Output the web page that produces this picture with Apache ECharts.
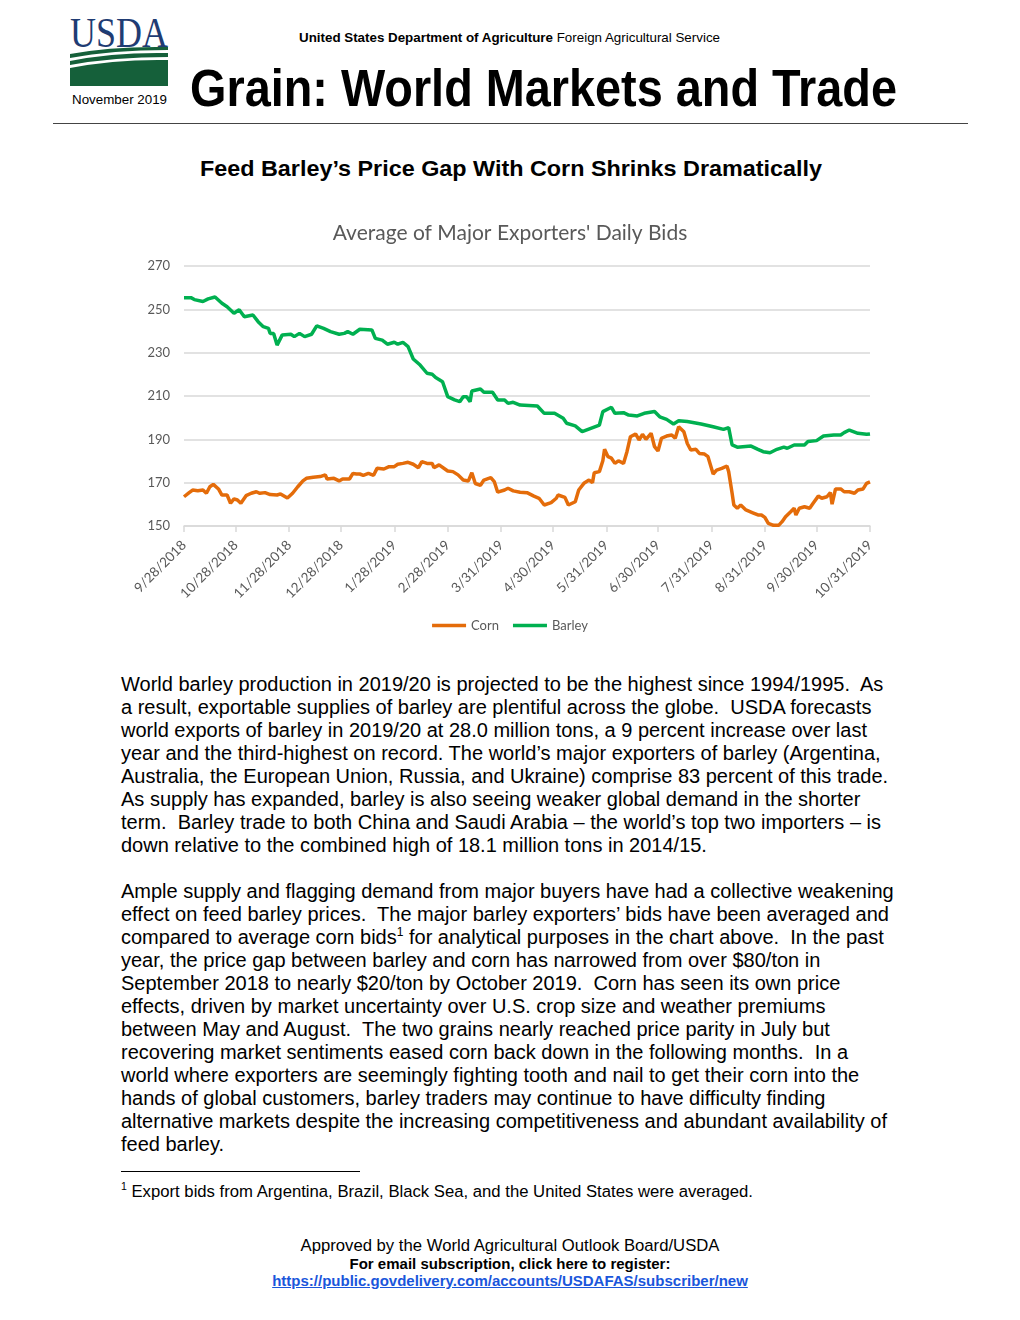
<!DOCTYPE html>
<html>
<head>
<meta charset="utf-8">
<script src="https://cdn.jsdelivr.net/npm/echarts@6/dist/echarts.min.js"></script>
<style>
  html,body{margin:0;padding:0;background:#fff;}
  body{width:1020px;height:1320px;position:relative;overflow:hidden;font-family:"Liberation Sans",Arial,sans-serif;color:#000;}
  .abs{position:absolute;white-space:pre;}
  .fit{transform-origin:0 50%;}
  .body{position:absolute;left:121px;font-size:20px;line-height:23px;white-space:pre;}
  #chart{position:absolute;left:0;top:200px;width:1020px;height:450px;}
</style>
</head>
<body>
<script>
// ---------------- DATA ----------------
const chartTitle = "Average of Major Exporters' Daily Bids";
const seriesNames = ['Corn', 'Barley'];
const xTickDates = ['2018-09-28','2018-10-28','2018-11-28','2018-12-28','2019-01-28','2019-02-28','2019-03-31',
  '2019-04-30','2019-05-31','2019-06-30','2019-07-31','2019-08-31','2019-09-30','2019-10-31'];
const xTickLabels = ['9/28/2018','10/28/2018','11/28/2018','12/28/2018','1/28/2019','2/28/2019','3/31/2019',
  '4/30/2019','5/31/2019','6/30/2019','7/31/2019','8/31/2019','9/30/2019','10/31/2019'];
const yMin = 150, yMax = 270, yStep = 20;

const cornDates = ['2018-09-28','2018-10-01','2018-10-03','2018-10-06','2018-10-09','2018-10-11','2018-10-13','2018-10-15',
  '2018-10-18','2018-10-20','2018-10-23','2018-10-25','2018-10-27','2018-10-29','2018-10-31','2018-11-03','2018-11-06',
  '2018-11-09','2018-11-11','2018-11-14','2018-11-17','2018-11-21','2018-11-23','2018-11-27','2018-11-30','2018-12-03',
  '2018-12-06','2018-12-08','2018-12-12','2018-12-16','2018-12-19','2018-12-20','2018-12-24','2018-12-27','2018-12-29',
  '2019-01-02','2019-01-04','2019-01-06','2019-01-08','2019-01-10','2019-01-13','2019-01-16','2019-01-18','2019-01-22',
  '2019-01-25','2019-01-28','2019-01-30','2019-02-02','2019-02-05','2019-02-08','2019-02-11','2019-02-13','2019-02-16',
  '2019-02-19','2019-02-20','2019-02-23','2019-02-28','2019-03-03','2019-03-06','2019-03-09','2019-03-12','2019-03-14',
  '2019-03-16','2019-03-19','2019-03-21','2019-03-25','2019-03-27','2019-03-29','2019-04-02','2019-04-04','2019-04-07',
  '2019-04-11','2019-04-15','2019-04-19','2019-04-22','2019-04-25','2019-04-29','2019-05-02','2019-05-03','2019-05-07',
  '2019-05-09','2019-05-13','2019-05-15','2019-05-18','2019-05-21','2019-05-23','2019-05-24','2019-05-27','2019-05-29',
  '2019-05-30','2019-06-01','2019-06-03','2019-06-05','2019-06-07','2019-06-10','2019-06-12','2019-06-14','2019-06-17',
  '2019-06-19','2019-06-21','2019-06-23','2019-06-26','2019-06-28','2019-06-30','2019-07-02','2019-07-05','2019-07-08',
  '2019-07-10','2019-07-12','2019-07-15','2019-07-17','2019-07-19','2019-07-22','2019-07-24','2019-07-27','2019-07-29',
  '2019-08-01','2019-08-03','2019-08-06','2019-08-09','2019-08-10','2019-08-12','2019-08-13','2019-08-15','2019-08-17',
  '2019-08-20','2019-08-24','2019-08-27','2019-08-29','2019-08-31','2019-09-02','2019-09-05','2019-09-08','2019-09-10',
  '2019-09-12','2019-09-15','2019-09-17','2019-09-18','2019-09-20','2019-09-23','2019-09-26','2019-09-28','2019-10-01',
  '2019-10-03','2019-10-06','2019-10-08','2019-10-09','2019-10-11','2019-10-14','2019-10-16','2019-10-19','2019-10-22',
  '2019-10-24','2019-10-27','2019-10-29','2019-10-31'];
const cornValues = [163.5,165.4,166.6,166.3,166.6,165.1,168.1,169.2,
  167.1,164.3,164.3,160.5,162.5,162.0,160.5,164.0,165.1,
  165.8,165.1,165.4,164.5,164.3,164.8,162.9,165.1,168.1,
  170.8,172.0,172.5,172.8,173.6,171.7,172.0,170.8,171.7,
  171.7,174.3,174.0,174.0,173.4,174.3,173.4,176.6,176.3,
  177.4,177.4,178.5,178.9,179.4,178.5,176.9,179.7,178.9,
  178.9,176.9,178.2,175.4,175.1,173.6,171.2,170.8,174.6,
  169.6,168.8,171.2,172.3,170.5,165.6,166.6,167.4,166.2,
  165.6,165.4,163.8,162.8,159.7,160.8,162.8,164.3,163.2,
  159.7,161.2,166.6,169.7,171.2,170.0,174.6,175.1,180.1,
  185.4,182.0,181.3,178.9,180.1,178.9,184.3,191.2,192.5,
  189.7,192.3,190.0,192.8,186.6,184.6,190.5,191.5,192.0,
  190.5,195.8,193.5,188.1,185.1,185.4,183.5,183.2,182.0,
  174.0,175.8,176.6,177.7,175.1,165.1,159.7,158.2,159.7,
  157.4,156.1,155.1,155.1,154.0,151.2,150.3,150.3,152.0,
  154.3,156.6,158.2,155.1,158.2,158.9,158.2,160.5,163.8,
  162.8,163.5,165.4,160.1,167.1,167.1,165.8,165.8,165.1,
  166.6,167.1,169.7,170.4];

const barleyDates = ['2018-09-28','2018-10-02','2018-10-04','2018-10-09','2018-10-12','2018-10-16','2018-10-20','2018-10-23',
  '2018-10-27','2018-10-30','2018-11-02','2018-11-07','2018-11-10','2018-11-13','2018-11-16','2018-11-17','2018-11-19',
  '2018-11-21','2018-11-24','2018-11-29','2018-12-01','2018-12-04','2018-12-07','2018-12-11','2018-12-14','2018-12-18',
  '2018-12-22','2018-12-27','2018-12-30','2019-01-01','2019-01-04','2019-01-08','2019-01-15','2019-01-17','2019-01-21',
  '2019-01-24','2019-01-28','2019-01-30','2019-02-02','2019-02-05','2019-02-08','2019-02-12','2019-02-16','2019-02-19',
  '2019-02-21','2019-02-22','2019-02-25','2019-02-28','2019-03-04','2019-03-07','2019-03-09','2019-03-11','2019-03-13',
  '2019-03-14','2019-03-19','2019-03-21','2019-03-26','2019-03-29','2019-04-02','2019-04-04','2019-04-07','2019-04-11',
  '2019-04-21','2019-04-25','2019-05-01','2019-05-06','2019-05-08','2019-05-13','2019-05-17','2019-05-22','2019-05-27',
  '2019-05-29','2019-06-03','2019-06-05','2019-06-10','2019-06-13','2019-06-18','2019-06-22','2019-06-28','2019-07-01',
  '2019-07-05','2019-07-09','2019-07-12','2019-07-17','2019-07-25','2019-08-01','2019-08-07','2019-08-10','2019-08-12',
  '2019-08-15','2019-08-23','2019-08-27','2019-08-30','2019-09-03','2019-09-07','2019-09-11','2019-09-13','2019-09-17',
  '2019-09-23','2019-09-25','2019-09-30','2019-10-04','2019-10-10','2019-10-14','2019-10-16','2019-10-19','2019-10-24',
  '2019-10-29','2019-10-30','2019-10-31'];
const barleyValues = [255.4,255.4,254.5,253.6,254.8,255.7,252.8,251.2,
  248.2,249.8,246.6,247.4,244.3,242.0,241.2,238.9,238.9,
  233.5,238.2,238.5,237.4,238.9,237.4,238.5,242.4,241.2,
  239.7,238.5,238.9,239.7,238.5,240.8,240.5,236.6,235.8,
  233.9,234.8,233.9,234.8,232.8,227.1,224.3,220.5,220.0,
  218.5,218.9,216.6,209.7,208.2,207.4,209.7,209.7,207.4,
  212.3,213.2,211.7,211.7,208.2,208.2,206.6,207.1,205.8,
  205.4,202.0,202.0,199.7,197.4,196.2,193.6,195.1,196.6,
  202.8,204.8,202.0,202.3,201.2,200.8,202.0,202.8,200.4,
  199.2,197.1,198.6,198.2,197.1,195.8,194.6,195.4,187.4,
  186.4,186.9,185.4,184.3,183.8,185.4,186.4,185.9,187.4,
  187.4,189.0,189.4,191.5,192.0,192.0,193.1,194.3,192.8,
  192.3,191.5,192.5];

const cornColor = '#E46C0A';
const barleyColor = '#00B050';

// ---------------- HELPERS ----------------
function dayNum(iso){ const p = iso.split('-').map(Number); return Date.UTC(p[0], p[1]-1, p[2]) / 86400000; }
const day0 = dayNum(xTickDates[0]);
const toX = iso => dayNum(iso) - day0;
const tickX = xTickDates.map(toX);
const pairs = (ds, vs) => ds.map((d, i) => [toX(d), vs[i]]);
</script>

<!-- Header -->
<svg class="abs" style="left:66px;top:14px;" width="108" height="76" viewBox="66 14 108 76">
  <text x="70" y="47" font-family="Liberation Serif, Times New Roman, serif" font-size="43" fill="#1F3C73" textLength="98" lengthAdjust="spacingAndGlyphs">USDA</text>
  <path d="M70,54 Q112,46 168,47 L168,50 Q112,50 70,58 Z" fill="#15603A"/>
  <path d="M70,61 Q114,52 168,53 L168,57 Q114,57 70,65 Z" fill="#15603A"/>
  <path d="M70,68 Q116,59 168,60 L168,86 L70,86 Z" fill="#15603A"/>
</svg>
<div class="abs fit" data-w="95" style="left:72px;top:92px;font-size:13px;line-height:16px;">November 2019</div>
<div class="abs fit" data-w="421" style="left:299px;top:30px;font-size:13px;line-height:16px;"><b>United States Department of Agriculture</b> Foreign Agricultural Service</div>
<div class="abs fit" data-w="707" style="left:190px;top:63px;font-size:51px;line-height:52px;font-weight:bold;">Grain: World Markets and Trade</div>
<div class="abs" style="left:53px;top:123px;width:915px;height:0;border-top:1.5px solid #444;"></div>

<div class="abs fit" data-w="622" style="left:200px;top:156px;font-size:22px;line-height:26px;font-weight:bold;">Feed Barley’s Price Gap With Corn Shrinks Dramatically</div>

<div id="chart"></div>

<div class="body" style="top:673px;"><div>World barley production in 2019/20 is projected to be the highest since 1994/1995.  As</div><div>a result, exportable supplies of barley are plentiful across the globe.  USDA forecasts</div><div>world exports of barley in 2019/20 at 28.0 million tons, a 9 percent increase over last</div><div>year and the third-highest on record. The world’s major exporters of barley (Argentina,</div><div>Australia, the European Union, Russia, and Ukraine) comprise 83 percent of this trade.</div><div>As supply has expanded, barley is also seeing weaker global demand in the shorter</div><div>term.  Barley trade to both China and Saudi Arabia – the world’s top two importers – is</div><div>down relative to the combined high of 18.1 million tons in 2014/15.</div></div>

<div class="body" style="top:880px;"><div>Ample supply and flagging demand from major buyers have had a collective weakening</div><div>effect on feed barley prices.  The major barley exporters’ bids have been averaged and</div><div>compared to average corn bids<sup style="font-size:12px;line-height:0;">1</sup> for analytical purposes in the chart above.  In the past</div><div>year, the price gap between barley and corn has narrowed from over $80/ton in</div><div>September 2018 to nearly $20/ton by October 2019.  Corn has seen its own price</div><div>effects, driven by market uncertainty over U.S. crop size and weather premiums</div><div>between May and August.  The two grains nearly reached price parity in July but</div><div>recovering market sentiments eased corn back down in the following months.  In a</div><div>world where exporters are seemingly fighting tooth and nail to get their corn into the</div><div>hands of global customers, barley traders may continue to have difficulty finding</div><div>alternative markets despite the increasing competitiveness and abundant availability of</div><div>feed barley.</div></div>

<div class="abs" style="left:121px;top:1171px;width:239px;height:0;border-top:1px solid #000;"></div>
<div class="abs" style="left:121px;top:1182px;font-size:16.7px;line-height:19px;"><sup style="font-size:10.5px;line-height:0;">1</sup> Export bids from Argentina, Brazil, Black Sea, and the United States were averaged.</div>

<div class="abs" style="left:0;width:1020px;text-align:center;top:1236px;font-size:16.7px;line-height:20px;">Approved by the World Agricultural Outlook Board/USDA</div>
<div class="abs" style="left:0;width:1020px;text-align:center;top:1255px;font-size:15px;line-height:18px;font-weight:bold;">For email subscription, click here to register:</div>
<div class="abs" style="left:0;width:1020px;text-align:center;top:1272px;font-size:15px;line-height:18px;font-weight:bold;color:#1A56DB;text-decoration:underline;">https://public.govdelivery.com/accounts/USDAFAS/subscriber/new</div>

<script>
// fit condensed header texts to their widths
document.querySelectorAll('.fit').forEach(el => {
  const target = +el.dataset.w;
  const w = el.getBoundingClientRect().width;
  if (w > 0) el.style.transform = 'scaleX(' + (target / w) + ')';
});

const chartFont = 'Lato, "Open Sans", sans-serif';
const chart = echarts.init(document.getElementById('chart'), null, {renderer: 'canvas'});
chart.setOption({
  animation: false,
  title: {
    text: chartTitle, left: 'center', top: 18,
    textStyle: {fontFamily: chartFont, fontSize: 21, fontWeight: 'normal', color: '#595959'}
  },
  legend: {
    data: seriesNames, bottom: 13, left: 'center',
    icon: 'rect', itemWidth: 34, itemHeight: 3.5, itemGap: 14,
    textStyle: {fontFamily: chartFont, fontSize: 13, color: '#595959'}
  },
  grid: {left: 184, right: 150, top: 66, bottom: 124, containLabel: false},
  xAxis: {
    type: 'value', min: tickX[0], max: tickX[tickX.length - 1],
    axisLine: {show: true, lineStyle: {color: '#D9D9D9', width: 1.5}},
    axisTick: {show: true, length: 6, lineStyle: {color: '#D9D9D9', width: 1.5}, customValues: tickX},
    axisLabel: {
      customValues: tickX, rotate: 45, margin: 17,
      fontFamily: chartFont, fontSize: 13.5, color: '#595959',
      formatter: v => { const i = tickX.indexOf(v); return i >= 0 ? xTickLabels[i] : ''; }
    },
    splitLine: {show: false}
  },
  yAxis: {
    type: 'value', min: yMin, max: yMax, interval: yStep,
    axisLine: {show: false}, axisTick: {show: false},
    axisLabel: {margin: 14, fontFamily: chartFont, fontSize: 13, color: '#595959'},
    splitLine: {lineStyle: {color: '#D9D9D9', width: 1.5}}
  },
  series: [
    {name: seriesNames[0], type: 'line', data: pairs(cornDates, cornValues), showSymbol: false, z: 4,
     lineStyle: {color: cornColor, width: 3.5}, itemStyle: {color: cornColor}},
    {name: seriesNames[1], type: 'line', data: pairs(barleyDates, barleyValues), showSymbol: false, z: 3,
     lineStyle: {color: barleyColor, width: 3.5}, itemStyle: {color: barleyColor}}
  ]
});
</script>
</body>
</html>
